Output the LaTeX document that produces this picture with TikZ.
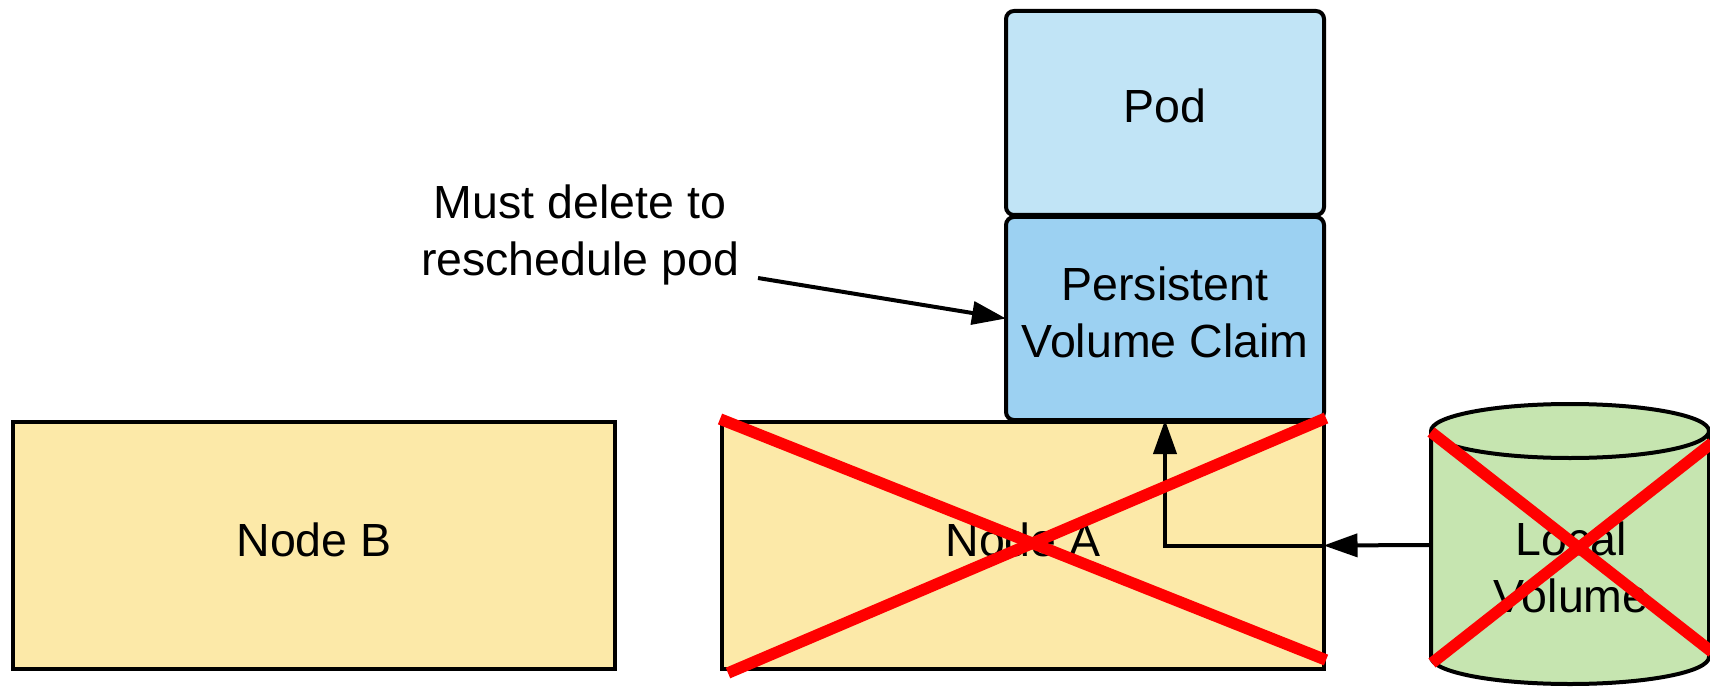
\documentclass[tikz,border=0pt]{standalone}
\usepackage{fontspec}
\setmainfont{Liberation Sans}
\usetikzlibrary{arrows.meta}
\definecolor{nodefill}{HTML}{FCE9A8}
\definecolor{podfill}{HTML}{C1E4F6}
\definecolor{pvcfill}{HTML}{9CD1F2}
\definecolor{volfill}{HTML}{C6E5B0}
\definecolor{crossred}{HTML}{FF0000}
\begin{document}
\begin{tikzpicture}[x=1pt,y=-1pt,
  box/.style={draw=black, line width=4pt, inner sep=0pt, outer sep=0pt},
  hostbox/.style={box, fill=nodefill, minimum width=602pt, minimum height=247pt},
  podbox/.style={box, rounded corners=8pt, minimum width=318pt},
  lbl/.style={font=\fontsize{46.5}{57}\selectfont, align=center, inner sep=0pt},
  cross/.style={draw=crossred, line width=11.5pt},
  arr/.style={draw=black, line width=4pt, -{Triangle[length=34pt,width=23pt]}}]
\useasboundingbox (0,0) rectangle (1710,687);

% hosts
\node[hostbox] (nb) at (314,545.5) {};
\node[hostbox] (na) at (1022.5,545.5) {};

% pod and its claim
\node[podbox, fill=podfill, minimum height=204pt] (pod) at (1165,113) {};
\node[podbox, fill=pvcfill, minimum height=203pt] (pvc) at (1165,318.5) {};

% local volume (cylinder drawn around an invisible node)
\node[inner sep=0pt, outer sep=0pt, minimum width=278pt, minimum height=284pt] (lv) at (1570,545) {};
\path[fill=volfill, draw=black, line width=4pt]
  (1431,431) -- (1431,657)
  arc[start angle=180, end angle=360, x radius=139pt, y radius=27pt]
  -- (1709,431)
  arc[start angle=0, end angle=180, x radius=139pt, y radius=27pt] -- cycle;
\draw[line width=4pt] (1431,431) arc[start angle=180, end angle=360, x radius=139pt, y radius=27pt];

% labels
\node[lbl] (tpod) at (1165,106) {Pod};
\node[lbl] (tpvc) at (1165,312) {Persistent\\Volume Claim};
\node[lbl] (tnb) at (314,540) {Node B};
\node[lbl] (tna) at (1023,540) {Node A};
\node[lbl] (tlv) at (1571,567) {Local\\Volume};
\node[lbl] (note) at (580,234.5) {Must delete to\\reschedule pod};

% connectors
\draw[arr] (lv.west) -- (na.east);
\draw[arr] (na.east) -- (na.east -| pvc.south) -- (pvc.south);
\coordinate (notetail) at (758,278);
\draw[arr] (notetail) -- (pvc.west);

% crossed-out items
\draw[cross] (720,419) -- (1326,660);
\draw[cross] (728,673) -- (1326,418);
\draw[cross] (1431,432) -- (1712,652);
\draw[cross] (1432,663) -- (1712,443);
\end{tikzpicture}
\end{document}
